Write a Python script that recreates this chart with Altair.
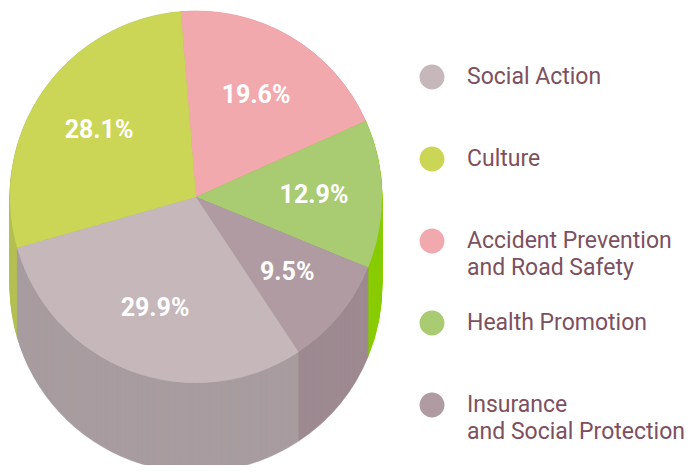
import altair as alt
import pandas as pd
import numpy as np

# Data
categories = ["Accident Prevention\nand Road Safety", "Health Promotion",
              "Insurance\nand Social Protection", "Social Action", "Culture"]
values = [19.6, 12.9, 9.5, 29.9, 28.1]
labels = ["19.6%", "12.9%", "9.5%", "29.9%", "28.1%"]
legend_order = ["Social Action", "Culture", "Accident Prevention\nand Road Safety",
                "Health Promotion", "Insurance\nand Social Protection"]
top_colors = {"Social Action": "#c5b7ba", "Culture": "#cbd657",
              "Accident Prevention\nand Road Safety": "#f2a9ae",
              "Health Promotion": "#a9cb71",
              "Insurance\nand Social Protection": "#b09ba2"}
side_colors = {"Social Action": "#a89ca0", "Culture": "#b3c152",
               "Accident Prevention\nand Road Safety": "#d99095",
               "Health Promotion": "#88cc00",
               "Insurance\nand Social Protection": "#9d8a91"}

W, H = 678, 457
CX, CY, R, DEPTH = 188, 189, 186, 89
START = np.deg2rad(355.3)

end = np.cumsum(values)
start = end - np.array(values)
pie = pd.DataFrame({"cat": categories, "value": values, "label": labels,
                    "start": start, "end": end, "mid": (start + end) / 2})

# extruded side: stack of copies at increasing depth (deepest first)
depths = list(range(DEPTH, -1, -1))
side = pd.concat([pie.assign(depth=d) for d in depths], ignore_index=True)

theta_scale = alt.Scale(domain=[0, 100], range=[START, START + 2 * np.pi])
top_scale = alt.Scale(domain=legend_order, range=[top_colors[c] for c in legend_order])
side_scale = alt.Scale(domain=legend_order, range=[side_colors[c] for c in legend_order])

side_layer = alt.Chart(side).mark_arc(radius=R, strokeWidth=0.6).encode(
    x=alt.value(CX),
    y=alt.Y("depth:Q", stack=None,
            scale=alt.Scale(domain=[0, DEPTH], range=[CY, CY + DEPTH], nice=False, zero=False),
            axis=None),
    theta=alt.Theta("start:Q", scale=theta_scale, stack=None),
    theta2="end:Q",
    color=alt.Color("cat:N", scale=side_scale, legend=None),
    stroke=alt.Stroke("cat:N", scale=side_scale, legend=None),
    order=alt.Order("depth:Q", sort="descending"),
)

top_layer = alt.Chart(pie).mark_arc(radius=R).encode(
    x=alt.value(CX), y=alt.value(CY),
    theta=alt.Theta("start:Q", scale=theta_scale, stack=None),
    theta2="end:Q",
    color=alt.Color("cat:N", scale=top_scale, legend=None),
)

label_layer = alt.Chart(pie).mark_text(
    radius=118, font="Roboto", fontSize=25, fontWeight="bold", color="white",
    baseline="middle", align="center"
).encode(
    x=alt.value(CX), y=alt.value(CY),
    theta=alt.Theta("mid:Q", scale=theta_scale, stack=None),
    text="label:N",
)

leg = pd.DataFrame({"cat": legend_order})
leg_y = alt.Y("cat:N", sort=legend_order,
              scale=alt.Scale(type="point", padding=0, range=[69, 397]), axis=None)

leg_points = alt.Chart(leg).mark_point(filled=True, size=620, opacity=1, shape="circle").encode(
    x=alt.value(424), y=leg_y,
    color=alt.Color("cat:N", scale=top_scale, legend=None),
)
leg_text = alt.Chart(leg).mark_text(
    align="left", baseline="middle", font="Roboto", fontSize=23, lineHeight=27,
    color="#7d5060", lineBreak="\n"
).encode(
    x=alt.value(459), y=leg_y, text="cat:N",
)

chart = alt.layer(side_layer, top_layer, label_layer, leg_points, leg_text).resolve_scale(
    color="independent", stroke="independent", y="independent", theta="independent"
).properties(
    width=W, height=H, padding=0, autosize="none",
    view=alt.ViewBackground(stroke="transparent", strokeWidth=0)
).configure_view(
    stroke="transparent", strokeWidth=0
).configure(background="white")

chart.save("out.html", embed_options={"renderer": "svg", "actions": False})
